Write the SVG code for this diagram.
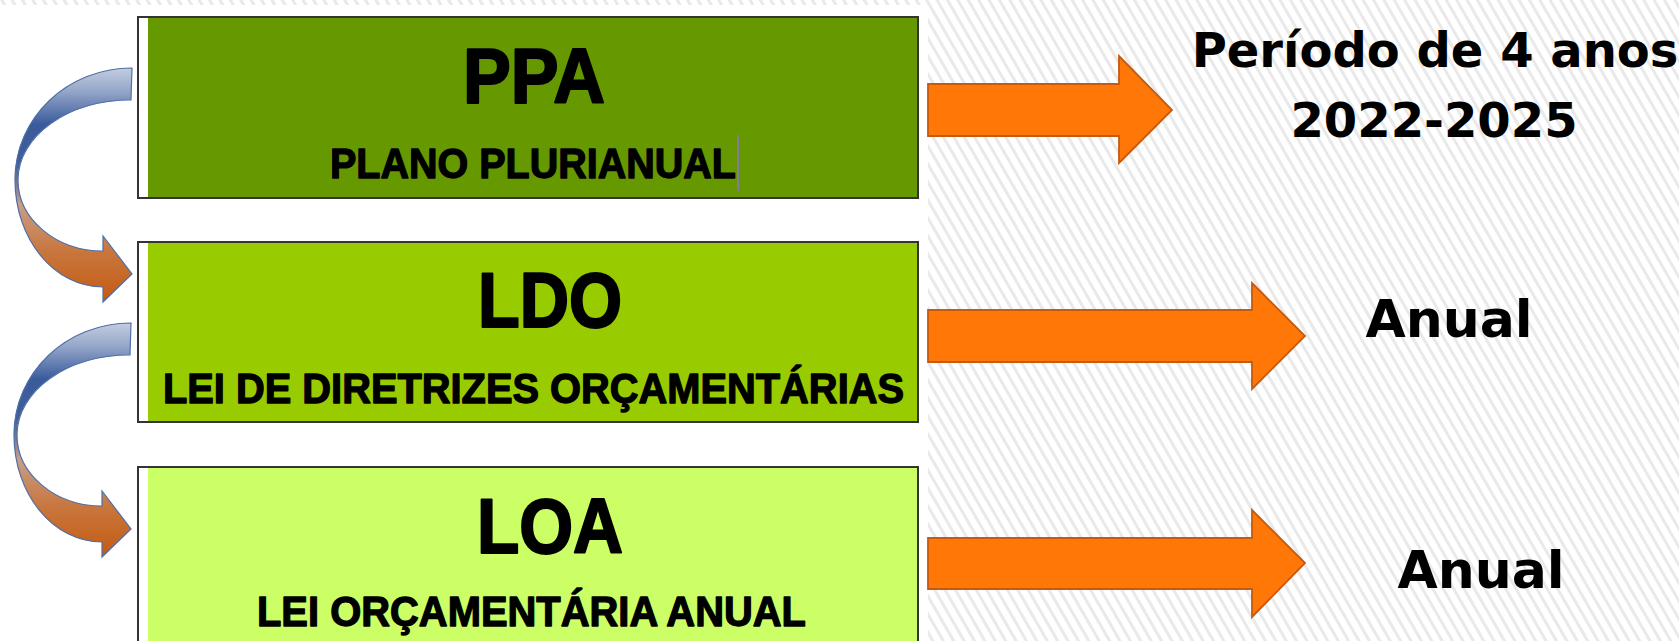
<svg xmlns="http://www.w3.org/2000/svg" width="1679" height="641" viewBox="0 0 1679 641">
  <defs>
    <pattern id="hatch" patternUnits="userSpaceOnUse" width="9" height="9" patternTransform="rotate(-30)">
      <rect width="9" height="9" fill="#ffffff"/>
      <rect x="0" y="0" width="3" height="9" fill="#e9e9e9"/>
    </pattern>
    <linearGradient id="curveGrad" x1="0" y1="0" x2="0" y2="1">
      <stop offset="0" stop-color="#c4cde0"/>
      <stop offset="0.1" stop-color="#94a6c9"/>
      <stop offset="0.24" stop-color="#3a5b9b"/>
      <stop offset="0.4" stop-color="#3f5e9a"/>
      <stop offset="0.5" stop-color="#7c7a92"/>
      <stop offset="0.58" stop-color="#c89f88"/>
      <stop offset="0.78" stop-color="#c8773f"/>
      <stop offset="1" stop-color="#c55a11"/>
    </linearGradient>
    <path id="curvedArrow" d="M 132,68 C 67,68 15,118 15,180 C 15,239 54,287 103,287 L 103,302 L 132,274 L 103,236 L 103,251 C 56,251 18,219 18,180 C 18,136 68,100 131,100 Z"/>
  </defs>
  <style>
    .box { stroke: #333333; stroke-width: 2; }
    .strip { fill: #ffffff; }
    .big { font-family: "Liberation Sans", Arial, sans-serif; font-weight: bold; font-size: 77px; fill: #000; stroke: #000; stroke-width: 2.2; stroke-linejoin: round; text-anchor: middle; }
    .sub { font-family: "Liberation Sans", Arial, sans-serif; font-weight: bold; font-size: 42px; fill: #000; stroke: #000; stroke-width: 1.3; stroke-linejoin: round; text-anchor: middle; }
    .side { font-family: "DejaVu Sans", Verdana, sans-serif; font-weight: bold; fill: #000; text-anchor: middle; }
    .orange { fill: #ff7706; stroke: #c55a11; stroke-width: 1.8; }
    .curve { fill: url(#curveGrad); stroke: #4f6fa8; stroke-width: 1.2; }
  </style>

  <rect x="0" y="0" width="1679" height="641" fill="url(#hatch)"/>
  <rect x="0" y="5" width="928" height="636" fill="#ffffff"/>

  <g id="ppa">
    <rect class="box" x="138" y="17" width="780" height="181" fill="#669900"/>
    <rect class="strip" x="139" y="18" width="9" height="179"/>
    <text class="big" x="534" y="103" textLength="142" lengthAdjust="spacingAndGlyphs">PPA</text>
    <text class="sub" x="533" y="178" textLength="406" lengthAdjust="spacingAndGlyphs">PLANO PLURIANUAL</text>
    <line x1="738" y1="135" x2="738" y2="191" stroke="#8f70d8" stroke-width="1.5"/>
  </g>

  <g id="ldo">
    <rect class="box" x="138" y="242" width="780" height="180" fill="#99cc00"/>
    <rect class="strip" x="139" y="243" width="9" height="178"/>
    <text class="big" x="550" y="327" textLength="144" lengthAdjust="spacingAndGlyphs">LDO</text>
    <text class="sub" x="533.5" y="403" textLength="741" lengthAdjust="spacingAndGlyphs">LEI DE DIRETRIZES ORÇAMENTÁRIAS</text>
  </g>

  <g id="loa">
    <rect class="box" x="138" y="467" width="780" height="190" fill="#ccff66"/>
    <rect class="strip" x="139" y="468" width="9" height="188"/>
    <text class="big" x="550" y="553" textLength="146" lengthAdjust="spacingAndGlyphs">LOA</text>
    <text class="sub" x="531.5" y="626" textLength="549" lengthAdjust="spacingAndGlyphs">LEI ORÇAMENTÁRIA ANUAL</text>
  </g>

  <g id="periodo-ppa">
    <text class="side" x="1435" y="67" font-size="48">Período de 4 anos</text>
    <text class="side" x="1434" y="137" font-size="48">2022-2025</text>
  </g>
  <g id="periodo-ldo">
    <text class="side" x="1449" y="337" font-size="52">Anual</text>
  </g>
  <g id="periodo-loa">
    <text class="side" x="1481" y="588" font-size="52">Anual</text>
  </g>

  <g id="connectors">
    <polygon class="orange" points="928,84 1119,84 1119,56 1172,110 1119,163 1119,136 928,136"/>
    <polygon class="orange" points="928,310 1252,310 1252,283 1305,336 1252,389 1252,362 928,362"/>
    <polygon class="orange" points="928,538 1252,538 1252,510 1305,563 1252,617 1252,589 928,589"/>
    <use href="#curvedArrow" class="curve"/>
    <use href="#curvedArrow" class="curve" transform="translate(-1,255)"/>
  </g>
</svg>
